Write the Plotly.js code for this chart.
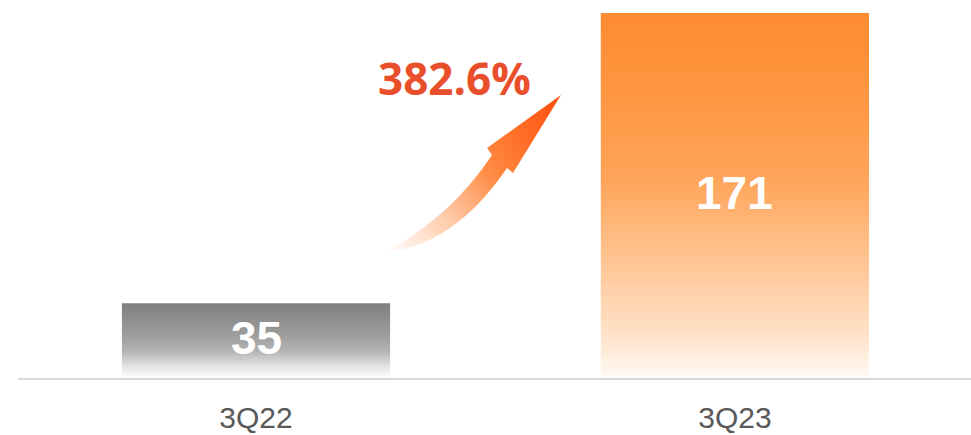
<!DOCTYPE html>
<html>
<head>
<meta charset="utf-8">
<script src="https://cdn.plot.ly/plotly-3.0.1.min.js"></script>
<style>html,body{margin:0;padding:0;background:#fff;}#chart{width:971px;height:435px;}</style>
</head>
<body>
<div id="chart"></div>
<script>
// ---- data ----
var categories = ['3Q22', '3Q23'];
var values = [35, 171];
var valueLabels = ['35', '171'];
var growthLabel = '382.6%';

// ---- styles ----
var barWidth = 0.56;
var barScales = [
  [[0, '#fdfdfd'], [0.15, '#e4e4e4'], [0.37, '#b2b2b2'], [0.6, '#9b9b9b'], [1, '#7f7f7f']],
  [[0, '#fffaf5'], [0.12, '#ffe2c8'], [0.3, '#ffc798'], [0.55, '#ffa459'], [0.8, '#ff953f'], [1, '#ff8b32']]
];

var traces = categories.map(function (c, i) {
  var v = values[i];
  var x0 = i - barWidth / 2, x1 = i + barWidth / 2;
  return {
    type: 'scatter', mode: 'lines',
    x: [x0, x1, x1, x0, x0],
    y: [0, 0, v, v, 0],
    fill: 'toself',
    fillgradient: {type: 'vertical', colorscale: barScales[i]},
    line: {width: 0},
    hoverinfo: 'skip',
    showlegend: false,
    name: c
  };
});

var annotations = categories.map(function (c, i) {
  return {
    x: i, y: values[i] / 2, xref: 'x', yref: 'y',
    text: '<b>' + valueLabels[i] + '</b>', showarrow: false,
    font: {family: 'Liberation Sans, Arial, sans-serif', size: 46, color: '#ffffff'},
    xanchor: 'center', yanchor: 'middle', yshift: 3
  };
});
annotations.push({
  x: (454 - 18) / 953, y: (378 - 78) / 365, xref: 'paper', yref: 'paper',
  text: '<b>' + growthLabel + '</b>', showarrow: false,
  font: {family: 'Open Sans, sans-serif', size: 44, color: '#e84f2a'},
  xanchor: 'center', yanchor: 'middle'
});

// decorative arrow
var svg = '<svg xmlns="http://www.w3.org/2000/svg" width="210" height="180" viewBox="0 0 210 180">' +
  '<defs><linearGradient id="g" gradientUnits="userSpaceOnUse" x1="15" y1="172" x2="191" y2="15">' +
  '<stop offset="0" stop-color="#ffffff"/>' +
  '<stop offset="0.3" stop-color="#ffcaa8"/>' +
  '<stop offset="0.55" stop-color="#ff8c45"/>' +
  '<stop offset="0.8" stop-color="#ff6822"/>' +
  '<stop offset="1" stop-color="#ff4f10"/>' +
  '</linearGradient></defs>' +
  '<path d="M15,172 Q81,137 122,75 L117,68 L191,15 L143,93 L137,88 Q84,166 15,172 Z" fill="url(#g)"/>' +
  '</svg>';
var svgUri = 'data:image/svg+xml;charset=utf-8,' + encodeURIComponent(svg);

var layout = {
  width: 971, height: 435,
  margin: {l: 18, r: 0, t: 13, b: 57},
  paper_bgcolor: '#ffffff', plot_bgcolor: '#ffffff',
  showlegend: false,
  xaxis: {
    range: [-0.497, 1.493],
    tickvals: [0, 1], ticktext: categories,
    ticks: '', ticklabelstandoff: 12,
    tickfont: {family: 'Liberation Sans, Arial, sans-serif', size: 30, color: '#595959'},
    showgrid: false, zeroline: false,
    showline: true, linecolor: '#d9d9d9', linewidth: 2
  },
  yaxis: {
    range: [0, 171],
    visible: false, showgrid: false, zeroline: false
  },
  annotations: annotations,
  images: [{
    source: svgUri, xref: 'paper', yref: 'paper',
    x: (370 - 18) / 953, y: (378 - 80) / 365,
    sizex: 210 / 953, sizey: 180 / 365,
    xanchor: 'left', yanchor: 'top', sizing: 'stretch', layer: 'above'
  }]
};

Plotly.newPlot('chart', traces, layout, {displayModeBar: false, staticPlot: true});
</script>
</body>
</html>
